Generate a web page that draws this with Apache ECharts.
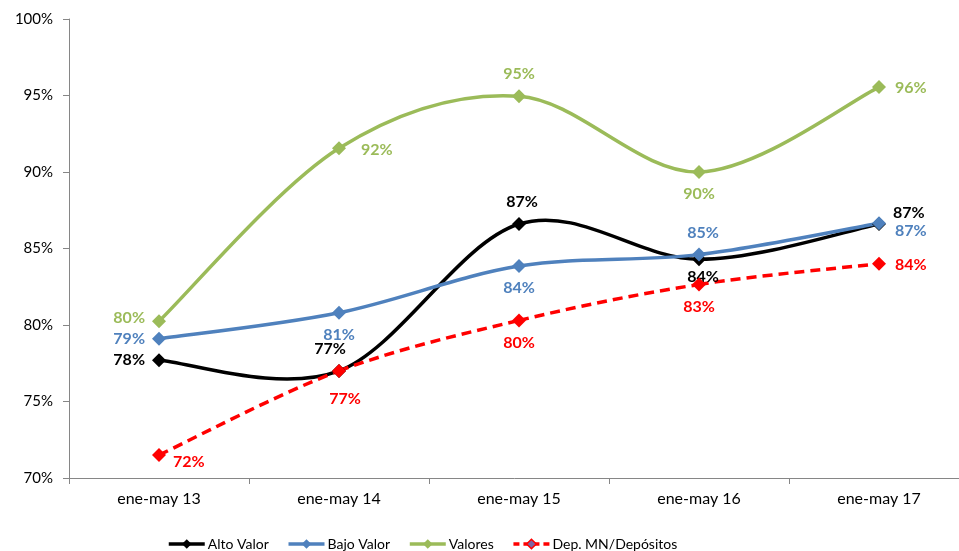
<!DOCTYPE html>
<html><head><meta charset="utf-8">
<script src="https://cdn.jsdelivr.net/npm/echarts@6/dist/echarts.min.js"></script>
<style>html,body{margin:0;padding:0;background:#fff}#c{width:959px;height:551px}</style>
</head><body><div id="c"></div>
<script>
var categories = ['ene-may 13','ene-may 14','ene-may 15','ene-may 16','ene-may 17'];
var altoValor = [77.7, 77.0, 86.6, 84.3, 86.6];
var bajoValor = [79.1, 80.8, 83.85, 84.6, 86.65];
var valores = [80.25, 91.55, 94.95, 90.0, 95.55];
var depMN = [71.5, 77.0, 80.3, 82.65, 84.0];
var yTicks = [70, 75, 80, 85, 90, 95, 100];

var FONT = 'Lato';
function lbl(pos, off, color){
  return {show:true, position:pos, offset:off||[0,0], color:color, fontFamily:FONT, fontWeight:'bold', fontSize:16, distance:7,
    formatter:function(p){return Math.round(p.value)+'%';}};
}
function mk(vals, pos, offs, color){
  return vals.map(function(v,i){return {value:v, label:lbl(pos[i], offs[i], color)};});
}
var defs = [
 {name:'Alto Valor', color:'#000000', vals:altoValor, pos:['left','top','top','bottom','right'], offs:[[0,0],[-9,0],[3,0],[4,-4],[0,-11]]},
 {name:'Bajo Valor', color:'#4F81BD', vals:bajoValor, pos:['left','bottom','bottom','top','right'], offs:[[0,0],[0,0],[0,0],[4,0],[2,8]]},
 {name:'Valores', color:'#9BBB59', vals:valores, pos:['left','right','top','bottom','right'], offs:[[0,-3],[8,2],[0,0],[0,0],[2,1]]},
 {name:'Dep. MN/Depósitos', color:'#FF0000', dashed:true, vals:depMN, pos:['right','bottom','bottom','bottom','right'], offs:[[0,7],[6,6],[0,0],[0,0],[2,1]]}
];
var series = [];
defs.forEach(function(s, k){
  var vals = s.vals, n = vals.length;
  // smooth curve (cardinal spline) drawn through the axis scales
  series.push({name:s.name+' curve', type:'custom', silent:true, z:2+k,
    data: vals.map(function(v,i){return [i, v];}),
    renderItem:function(params, api){
      var i = params.dataIndex;
      if (i >= n-1) return null;
      function P(j){ j = Math.max(0, Math.min(n-1, j)); return api.coord([j, vals[j]]); }
      var p0=P(i-1), p1=P(i), p2=P(i+1), p3=P(i+2);
      var t = 1/6;
      return {type:'bezierCurve', shape:{x1:p1[0], y1:p1[1], x2:p2[0], y2:p2[1],
        cpx1:p1[0]+(p2[0]-p0[0])*t, cpy1:p1[1]+(p2[1]-p0[1])*t,
        cpx2:p2[0]-(p3[0]-p1[0])*t, cpy2:p2[1]-(p3[1]-p1[1])*t},
        style:{stroke:s.color, fill:null, lineWidth:3.5, lineDash:s.dashed?[10,6]:null}};
    }});
  series.push({name:s.name, type:'line', data:mk(vals, s.pos, s.offs, s.color), symbol:'diamond', symbolSize:14,
    itemStyle:{color:s.color}, lineStyle:{width:0, color:s.color}, z:10+k});
});
function legItem(name, color, dashed, fill){
  return {name:name, itemStyle:{color:fill||color, borderColor:color, borderWidth:fill?1.5:0},
    lineStyle:{color:color, width:3.5, type:dashed?[6,4]:'solid', opacity:1}};
}
var chart = echarts.init(document.getElementById('c'));
chart.setOption({
  animation:false,
  grid:{left:69, top:19, bottom:73, width:900, containLabel:false, outerBoundsMode:'none'},
  xAxis:{type:'category', data:categories, boundaryGap:true,
    axisLine:{lineStyle:{color:'#868686', width:1}},
    axisTick:{show:true, length:6, lineStyle:{color:'#868686'}},
    axisLabel:{color:'#000', fontFamily:FONT, fontSize:16, margin:13}},
  yAxis:{type:'value', min:yTicks[0], max:yTicks[yTicks.length-1], interval:5,
    axisLine:{show:true, lineStyle:{color:'#868686'}},
    axisTick:{show:true, length:6, lineStyle:{color:'#868686'}},
    splitLine:{show:false},
    axisLabel:{color:'#000', fontFamily:FONT, fontSize:15, margin:16, formatter:'{value}%'}},
  legend:{left:162, top:532, itemWidth:36, itemHeight:12, itemGap:18,
    textStyle:{fontFamily:FONT, fontSize:14, color:'#000', padding:[0,0,0,-2]},
    data:[legItem('Alto Valor','#000000'), legItem('Bajo Valor','#4F81BD'), legItem('Valores','#9BBB59'),
      legItem('Dep. MN/Depósitos','#FF0000', true, '#8064A2')]},
  series:series
});
</script></body></html>
